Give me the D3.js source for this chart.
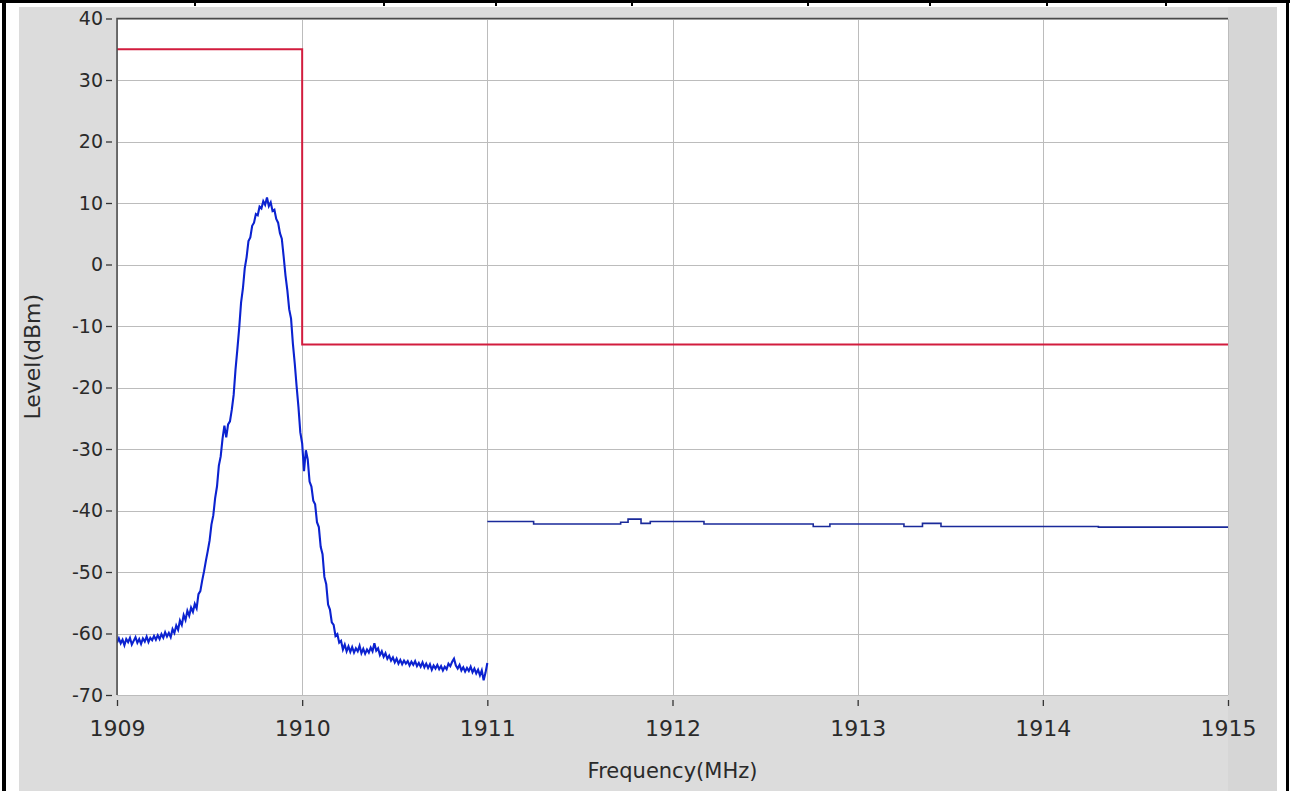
<!DOCTYPE html>
<html lang="en">
<head>
<meta charset="utf-8">
<title>Spectrum emission mask</title>
<script src="https://d3js.org/d3.v7.min.js"></script>
<style>
  body { margin: 0; background: #fff; }
  text { font-family: "DejaVu Sans", sans-serif; fill: #2a2a2a; }
  .grid line { stroke: #bcbcbc; shape-rendering: crispEdges; }
  .grid .domain, .axis .domain { display: none; }
  .axis line { stroke: #333; stroke-width: 1.3; }
</style>
</head>
<body>
<script>
// measured spectrum 1909 - 1911 MHz, one sample every 10 kHz
var spectrumStart = 1909, spectrumStep = 0.01;
var spectrumLevels = [
  -61.5, -60.8, -61.6, -61.0, -61.9, -60.9, -61.4, -60.7, -61.8, -61.2,
  -60.6, -61.5, -60.9, -61.7, -60.8, -61.3, -60.5, -61.4, -60.7, -61.1,
  -60.4, -61.0, -60.3, -60.9, -60.1, -60.7, -59.8, -60.5, -59.9, -60.6,
  -59.3, -59.9, -58.7, -59.4, -57.9, -58.6, -57.0, -57.8, -56.3, -57.1,
  -55.8, -56.5, -55.2, -55.9, -53.6, -53.1, -51.4, -49.9, -48.2, -46.6,
  -44.9, -42.3, -40.8, -38.0, -36.1, -32.7, -31.2, -28.3, -26.2, -28.1,
  -26.0, -25.5, -23.6, -21.2, -17.1, -13.8, -10.3, -6.2, -3.9, -0.6,
  1.2, 3.8, 4.4, 6.3, 6.8, 8.2, 8.0, 9.4, 9.1, 10.3,
  9.7, 10.9, 9.5, 10.1, 8.7, 8.9, 7.4, 6.8, 5.1, 4.2,
  1.3, -1.8, -4.2, -7.3, -8.8, -12.9, -16.1, -19.8, -23.2, -27.3,
  -29.1, -33.6, -30.2, -31.7, -35.3, -36.1, -38.4, -39.0, -41.9, -42.7,
  -45.9, -47.1, -50.8, -52.0, -55.3, -56.1, -58.2, -58.6, -60.4, -60.1,
  -61.5, -61.2, -62.6, -61.8, -62.9, -62.1, -63.0, -62.2, -63.1, -62.4,
  -62.9, -62.0, -63.2, -62.5, -63.3, -62.6, -63.1, -62.3, -62.9, -61.6,
  -62.8, -62.4, -63.5, -62.9, -63.8, -63.2, -64.1, -63.6, -64.4, -63.9,
  -64.7, -64.1, -64.9, -64.3, -65.0, -64.4, -64.9, -64.5, -65.2, -64.6,
  -65.1, -64.5, -65.3, -64.8, -65.4, -64.7, -65.5, -64.9, -65.6, -65.0,
  -65.9, -65.2, -65.7, -65.1, -65.8, -65.3, -66.0, -65.4, -65.8, -64.9,
  -65.3, -64.6, -64.1, -65.2, -65.7, -65.1, -66.0, -65.5, -66.2, -65.6,
  -66.1, -65.4, -66.3, -65.7, -66.5, -65.9, -66.8, -66.0, -67.6, -66.4,
  -64.8
];

// measured level 1911 - 1915 MHz (held values)
var tailFreqs  = [1911, 1911.25, 1911.72, 1911.76, 1911.83, 1911.88, 1912.17, 1912.76, 1912.85, 1913.25, 1913.35, 1913.45, 1914.3, 1915];
var tailLevels = [-41.8, -42.2, -41.9, -41.4, -42.1, -41.8, -42.2, -42.6, -42.2, -42.6, -42.1, -42.6, -42.7, -42.7];

// limit mask
var maskFreqs  = [1909, 1910, 1915];
var maskLevels = [35, -13, -13];

var xTicks = [1909, 1910, 1911, 1912, 1913, 1914, 1915];
var yTicks = [40, 30, 20, 10, 0, -10, -20, -30, -40, -50, -60, -70];

var w = 1290, h = 791;
var plot = {left: 117, top: 18.5, right: 1228, bottom: 695};

var x = d3.scaleLinear().domain([1909, 1915]).range([plot.left, plot.right]);
var y = d3.scaleLinear().domain([-70, 40]).range([plot.bottom, plot.top]);
var plain = function(d) { return String(d); };   // keep ASCII hyphen for negatives

var svg = d3.select('body').append('svg')
    .attr('width', w)
    .attr('height', h);

// page / table frame
svg.append('rect').attr('x', 19).attr('y', 7).attr('width', 1258).attr('height', h - 7).attr('fill', '#dcdcdc');
svg.append('rect').attr('x', 1228).attr('y', 7).attr('width', 49).attr('height', h - 7).attr('fill', '#d6d6d6');
svg.append('rect').attr('x', 0).attr('y', 0).attr('width', w).attr('height', 3).attr('fill', '#000');
svg.append('rect').attr('x', 2).attr('y', 0).attr('width', 4).attr('height', h).attr('fill', '#000');
svg.append('rect').attr('x', 1286).attr('y', 0).attr('width', 3).attr('height', h).attr('fill', '#000');
svg.selectAll('.cell')
    .data([195, 384, 496, 632, 808, 930, 1047, 1166])
  .enter().append('rect')
    .attr('class', 'cell')
    .attr('x', function(d) { return d - 1; })
    .attr('y', 0).attr('width', 2).attr('height', 6)
    .attr('fill', '#000');

// plot area
svg.append('rect')
    .attr('x', plot.left).attr('y', plot.top)
    .attr('width', plot.right - plot.left).attr('height', plot.bottom - plot.top)
    .attr('fill', '#fff');

svg.append('g')
    .attr('class', 'grid')
    .attr('transform', 'translate(0,' + plot.bottom + ')')
    .call(d3.axisBottom(x).tickValues(xTicks).tickSize(-(plot.bottom - plot.top)).tickFormat(''));
svg.append('g')
    .attr('class', 'grid')
    .attr('transform', 'translate(' + plot.left + ',0)')
    .call(d3.axisLeft(y).tickValues(yTicks).tickSize(-(plot.right - plot.left)).tickFormat(''));

svg.append('defs').append('clipPath').attr('id', 'clip')
  .append('rect')
    .attr('x', plot.left).attr('y', plot.top - 2)
    .attr('width', plot.right - plot.left).attr('height', plot.bottom - plot.top + 4);

var traces = svg.append('g').attr('clip-path', 'url(#clip)');

var spectrum = spectrumLevels.map(function(v, i) {
  return {f: spectrumStart + i * spectrumStep, v: v};
});
var tail = tailFreqs.map(function(f, i) { return {f: f, v: tailLevels[i]}; });
var mask = maskFreqs.map(function(f, i) { return {f: f, v: maskLevels[i]}; });

var line = d3.line().x(function(d) { return x(d.f); }).y(function(d) { return y(d.v); });
var stepLine = d3.line().curve(d3.curveStepAfter)
    .x(function(d) { return x(d.f); }).y(function(d) { return y(d.v); });

traces.append('path').datum(mask)
    .attr('d', stepLine)
    .attr('fill', 'none').attr('stroke', '#d21c3e').attr('stroke-width', 2);
traces.append('path').datum(spectrum)
    .attr('d', line)
    .attr('fill', 'none').attr('stroke', '#0b22d0').attr('stroke-width', 2.1);
traces.append('path').datum(tail)
    .attr('d', stepLine)
    .attr('fill', 'none').attr('stroke', '#1a2a9a').attr('stroke-width', 1.6);

// plot border (top + left)
svg.append('path')
    .attr('d', 'M' + plot.left + ',' + plot.bottom + 'V' + plot.top + 'H' + plot.right)
    .attr('fill', 'none').attr('stroke', '#4a4a4a').attr('stroke-width', 1.5);

// axes
var xAxis = svg.append('g')
    .attr('class', 'axis')
    .attr('transform', 'translate(0,' + (plot.bottom + 5) + ')')
    .call(d3.axisBottom(x).tickValues(xTicks).tickSizeInner(6).tickSizeOuter(0).tickPadding(14).tickFormat(plain));
xAxis.selectAll('text').style('font-size', '22px').attr('fill', '#2a2a2a');

var yAxis = svg.append('g')
    .attr('class', 'axis')
    .attr('transform', 'translate(' + (plot.left - 5) + ',0)')
    .call(d3.axisLeft(y).tickValues(yTicks).tickSizeInner(6).tickSizeOuter(0).tickPadding(3).tickFormat(plain));
yAxis.selectAll('text').style('font-size', '19px').attr('fill', '#2a2a2a');

svg.append('text')
    .attr('x', (plot.left + plot.right) / 2)
    .attr('y', 778)
    .attr('text-anchor', 'middle')
    .style('font-size', '21px')
    .text('Frequency(MHz)');

svg.append('text')
    .attr('transform', 'translate(40,' + ((plot.top + plot.bottom) / 2) + ') rotate(-90)')
    .attr('text-anchor', 'middle')
    .style('font-size', '22px')
    .text('Level(dBm)');
</script>
</body>
</html>
